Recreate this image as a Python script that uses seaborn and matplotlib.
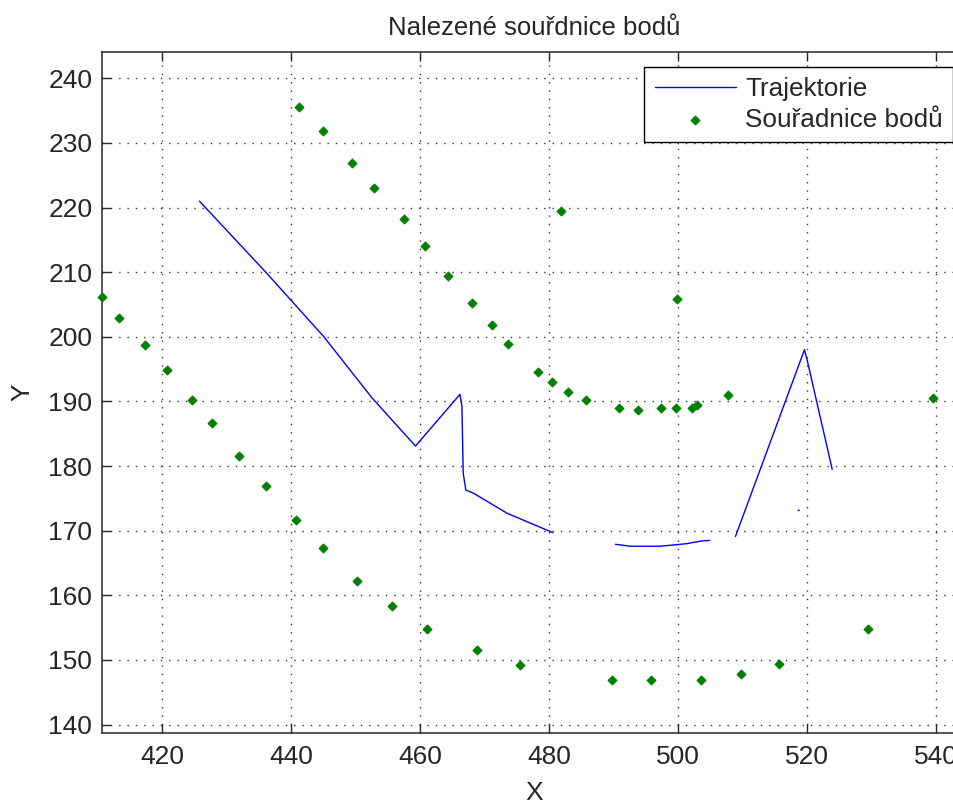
import matplotlib
matplotlib.use("Agg")
import matplotlib.pyplot as plt
import seaborn as sns
import pandas as pd

# Trajectory, drawn as separate pieces (segment id per vertex)
traj_x = [425.8, 436.0, 445.1, 452.6, 459.3, 466.2, 466.5, 466.7, 467.1, 468.3, 473.5, 480.6,
          490.3, 492.6, 497.3, 501.4, 503.5, 504.9,
          508.9, 519.6, 520.0, 523.9,
          518.6, 518.8]
traj_y = [221.0, 210.1, 200.0, 190.5, 183.1, 191.1, 189.2, 178.9, 176.3, 175.8, 172.7, 169.7,
          167.9, 167.6, 167.6, 168.0, 168.4, 168.5,
          169.1, 198.0, 196.5, 179.5,
          173.1, 173.2]
traj_seg = [1] * 12 + [2] * 6 + [3] * 4 + [4] * 2

# Detected point coordinates
pts_x = [410.75, 413.4, 417.4, 420.7, 424.6, 427.7, 432.0, 436.2, 440.8, 445.0, 450.3,
         455.7, 461.1, 468.8, 475.5, 489.7, 495.8, 503.5, 509.7, 515.6, 529.5,
         441.3, 445.0, 449.5, 452.9, 457.5, 460.8, 464.4, 468.1, 471.2, 473.7, 478.3,
         480.4, 482.9, 485.8, 490.9, 493.8, 497.3, 499.7, 502.2, 503.0, 507.8, 539.5,
         481.9, 499.9]
pts_y = [206.2, 202.9, 198.7, 194.9, 190.2, 186.6, 181.5, 176.9, 171.7, 167.4, 162.2,
         158.4, 154.8, 151.5, 149.2, 146.9, 146.9, 146.9, 147.9, 149.4, 154.8,
         235.6, 231.8, 226.9, 223.1, 218.2, 214.1, 209.4, 205.3, 201.8, 198.9, 194.6,
         193.0, 191.5, 190.2, 189.0, 188.7, 189.0, 189.0, 189.0, 189.5, 191.0, 190.5,
         219.5, 205.9]

x_ticks = [420, 440, 460, 480, 500, 520, 540]
y_ticks = [140, 150, 160, 170, 180, 190, 200, 210, 220, 230, 240]

title = "Nalezené souřdnice bodů"
label_traj = "Trajektorie"
label_pts = "Souřadnice bodů"

sns.set_style("ticks")
plt.rcParams["font.family"] = ["Liberation Sans", "DejaVu Sans"]
ink = "#262626"

fig = plt.figure(figsize=(9.54, 8.01), dpi=100)
ax = fig.add_axes([102 / 954, 68 / 801, 865 / 954, 681 / 801])

traj = pd.DataFrame({"x": traj_x, "y": traj_y, "seg": traj_seg})
for seg, grp in traj.groupby("seg"):
    sns.lineplot(data=grp, x="x", y="y", sort=False, estimator=None,
                 color=(0, 0, 1), linewidth=1.0, ax=ax,
                 label=label_traj if seg == 1 else "_nolegend_")

pts = pd.DataFrame({"x": pts_x, "y": pts_y})
sns.scatterplot(data=pts, x="x", y="y", marker="D", s=22, color=(0, 0.5, 0),
                edgecolor=(0, 0.5, 0), linewidth=0.6, ax=ax, label=label_pts,
                zorder=3, clip_on=False)

ax.set_xlim(410.7, 544.8)
ax.set_ylim(138.7, 244.07)
ax.set_xticks(x_ticks)
ax.set_yticks(y_ticks)

ax.grid(True, color="#333333", linestyle=(0, (1, 5)), linewidth=1.0)
ax.set_axisbelow(True)

for sp in ax.spines.values():
    sp.set_visible(True)
    sp.set_linewidth(1.1)
    sp.set_color(ink)

ax.tick_params(direction="in", length=6.5, width=1.0, top=True, right=True,
               labelsize=19, colors=ink, labelcolor=ink)
ax.tick_params(axis="x", pad=9)
ax.tick_params(axis="y", pad=7)

ax.set_title(title, fontsize=18.5, color=ink, pad=12)
ax.set_xlabel("X", fontsize=19, color=ink, labelpad=8)
ax.set_ylabel("Y", fontsize=19, color=ink, labelpad=10)

leg = ax.legend(loc="upper right", bbox_to_anchor=(0.9838, 0.978), borderaxespad=0,
                frameon=True, fancybox=False, framealpha=1, edgecolor="black",
                fontsize=18.8, handlelength=3.1, handletextpad=0.35,
                labelspacing=0.25, borderpad=0.4)
leg.get_frame().set_linewidth(1.0)
for t in leg.get_texts():
    t.set_color(ink)

fig.savefig("out.png", dpi=100)
